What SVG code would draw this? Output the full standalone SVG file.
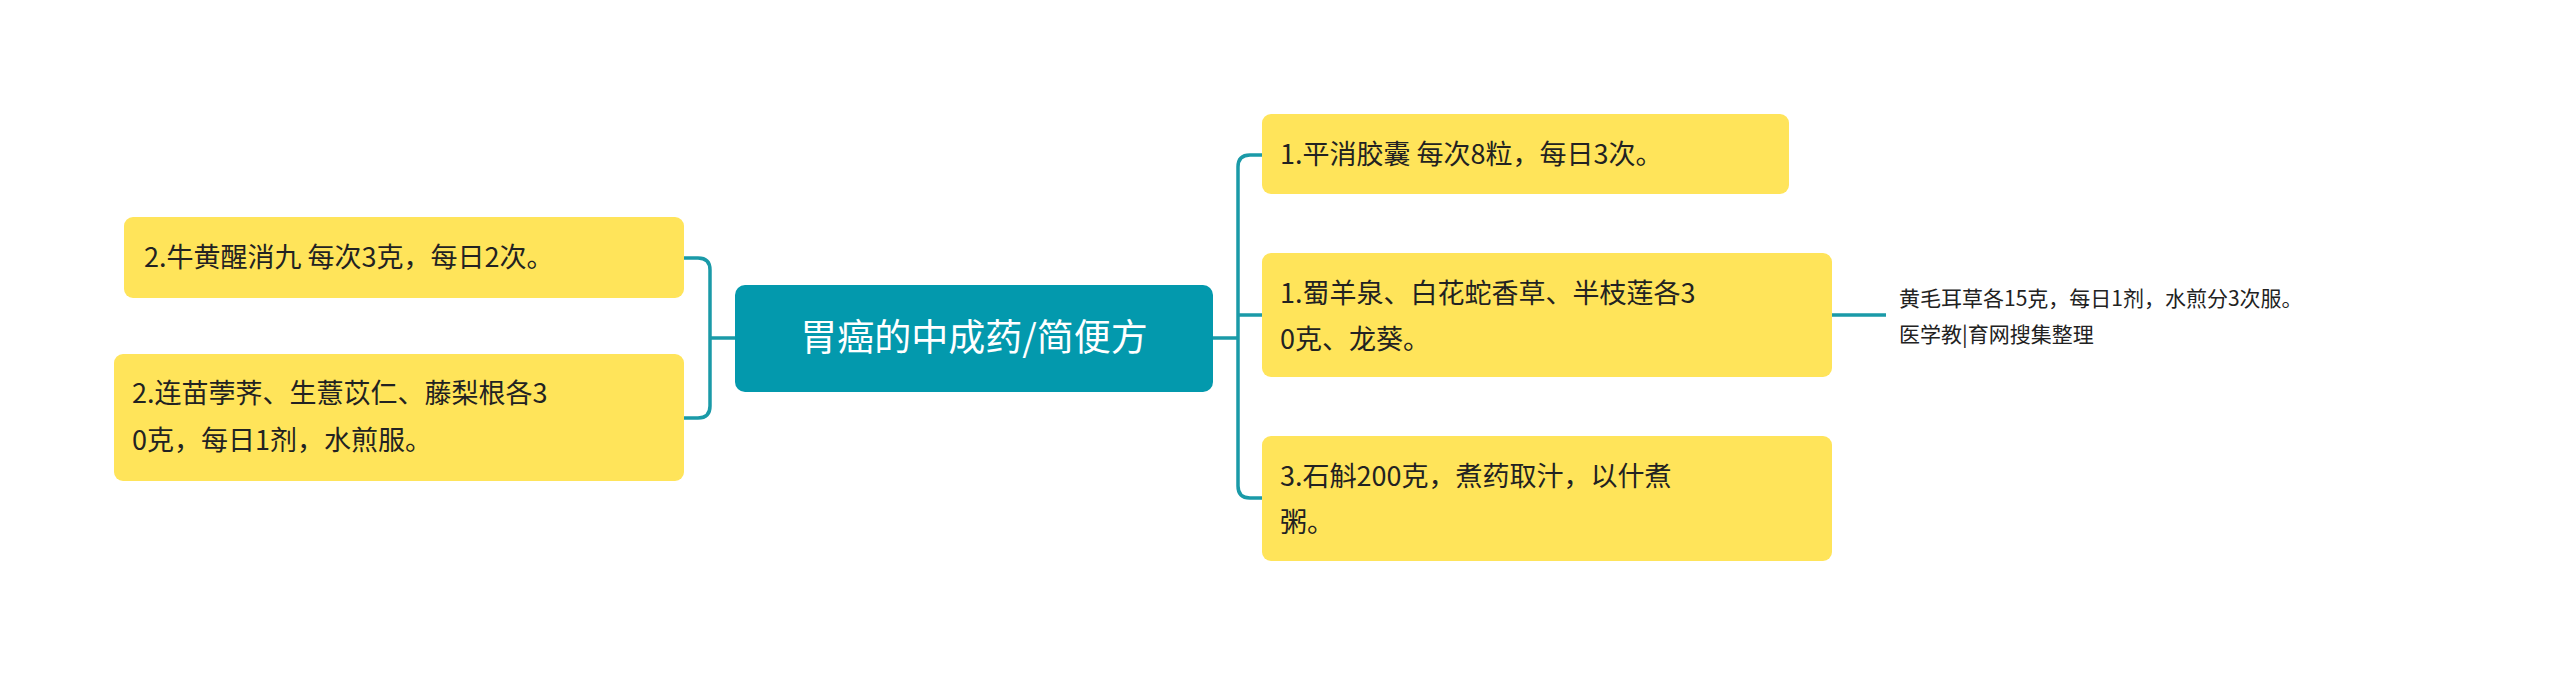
<svg xmlns="http://www.w3.org/2000/svg" width="2560" height="677" viewBox="0 0 2560 677">
<style>
.n{fill:#FFE45A}
.t{font-family:"Noto Sans CJK SC","Noto Sans",sans-serif;font-size:27px;fill:#222}
.c{fill:none;stroke:#1A9AA8;stroke-width:3.5}
</style>
<rect width="2560" height="677" fill="#fff"/>
<g id="connectors">
<path class="c" d="M735 338H710M684 258H698Q710 258 710 270V406Q710 418 698 418H684"/>
<path class="c" d="M1213 338H1238M1262 155H1250Q1238 155 1238 167V486Q1238 498 1250 498H1262M1238 315H1262M1832 315H1886"/>
</g>
<g id="center"><rect x="735" y="285" width="478" height="107" rx="10" fill="#0399AD"/>
<text x="974" y="351" text-anchor="middle" font-family="Noto Sans CJK SC,sans-serif" font-size="37" fill="#fff">胃癌的中成药/简便方</text></g>
<g id="l1"><rect class="n" x="124" y="217" width="560" height="81" rx="9"/><text class="t" x="144" y="267">2.牛黄醒消九 每次3克，每日2次。</text></g>
<g id="l2"><rect class="n" x="114" y="354" width="570" height="127" rx="9"/><text class="t" x="132" y="403">2.连苗荸荠、生薏苡仁、藤梨根各3</text><text class="t" x="132" y="450">0克，每日1剂，水煎服。</text></g>
<g id="r1"><rect class="n" x="1262" y="114" width="527" height="80" rx="9"/><text class="t" x="1280" y="164">1.平消胶囊 每次8粒，每日3次。</text></g>
<g id="r2"><rect class="n" x="1262" y="253" width="570" height="124" rx="9"/><text class="t" x="1280" y="303">1.蜀羊泉、白花蛇香草、半枝莲各3</text><text class="t" x="1280" y="349">0克、龙葵。</text></g>
<g id="r3"><rect class="n" x="1262" y="436" width="570" height="125" rx="9"/><text class="t" x="1280" y="486">3.石斛200克，煮药取汁，以什煮</text><text class="t" x="1280" y="532">粥。</text></g>
<g id="s1"><text font-family="Noto Sans CJK SC,sans-serif" font-size="21" fill="#222"><tspan x="1899" y="306">黄毛耳草各15克，每日1剂，水煎分3次服。</tspan><tspan x="1899" y="342">医学教|育网搜集整理</tspan></text></g>
</svg>
